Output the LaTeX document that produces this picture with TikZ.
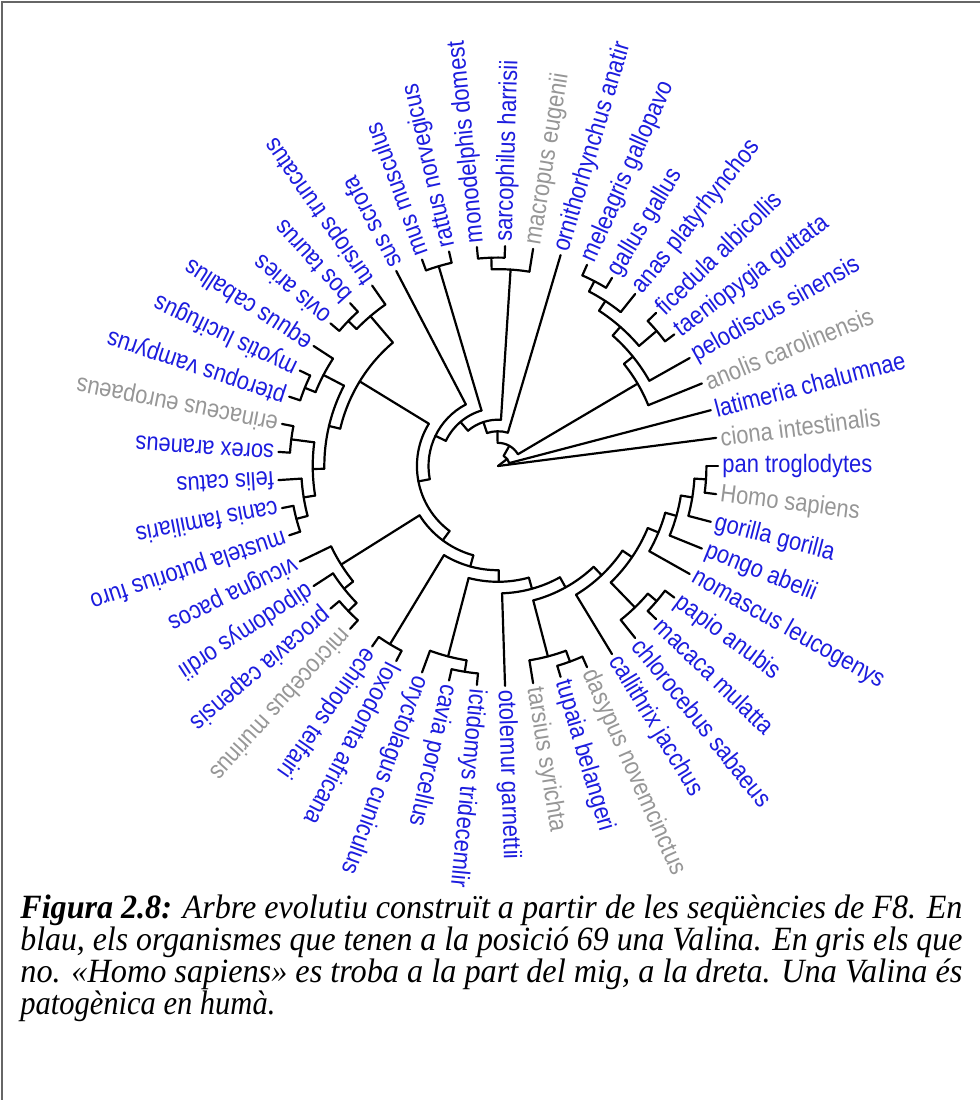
\documentclass[tikz,border=0pt]{standalone}
\usepackage{graphicx}
\usepackage{fontspec}
\setmainfont{Liberation Serif}
\newfontfamily\labfont{Liberation Sans}
\definecolor{tipblue}{RGB}{28,28,222}
\definecolor{tipgray}{RGB}{150,150,150}
\tikzset{
  branch/.style={line width=1.1pt, line cap=round},
  tiplabel/.style={anchor=west, inner sep=0pt, font=\labfont\fontsize{12.6}{14}\selectfont},
  capline/.style={anchor=base west, inner sep=0pt, font=\itshape\fontsize{17}{20}\selectfont},
}
% #1 radius, #2 #3 angles of the two children, #4 own angle, #5 radius of the parent
\newcommand{\clade}[5]{%
  \draw[branch] (#2:#1) arc[start angle=#2, end angle=#3, radius=#1];
  \draw[branch] (#4:#5) -- (#4:#1);}
% #1 angle, #2 radius of the parent, #3 colour, #4 name, #5 text
\newcommand{\taxon}[5]{%
  \draw[branch] (#1:#2) -- (#1:220);
  \node[tiplabel, text=#3, rotate=#1] (#4) at (#1:224) {\scalebox{0.87}[1]{#5}};}
\begin{document}
\begin{tikzpicture}[x=0.5pt, y=0.5pt]
  \useasboundingbox (-498,-634) rectangle (482,466);
  \draw[black!60, line width=1pt] (-496,-634) -- (-496,464) -- (482,464);

  % fishes, reptiles and birds
  \taxon{7.347}{0}{tipgray}{ciona}{ciona intestinalis}
  \taxon{14.694}{11.58}{tipblue}{latimeria}{latimeria chalumnae}
  \taxon{22.041}{162.11}{tipgray}{anolis}{anolis carolinensis}
  \taxon{29.388}{173.68}{tipblue}{pelodiscus}{pelodiscus sinensis}
  \taxon{36.735}{208.42}{tipblue}{taeniopygia}{taeniopygia guttata}
  \taxon{44.082}{208.42}{tipblue}{ficedula}{ficedula albicollis}
  \taxon{51.429}{196.84}{tipblue}{anas}{anas platyrhynchos}
  \taxon{58.776}{208.42}{tipblue}{gallus}{gallus gallus}
  \taxon{66.122}{208.42}{tipblue}{meleagris}{meleagris gallopavo}
  \clade{208.42}{66.122}{58.776}{62.449}{196.84}
  \clade{196.84}{62.449}{51.429}{56.939}{185.26}
  \clade{208.42}{44.082}{36.735}{40.408}{185.26}
  \clade{185.26}{56.939}{40.408}{48.673}{173.68}
  \clade{173.68}{48.673}{29.388}{39.031}{162.11}
  \clade{162.11}{39.031}{22.041}{30.536}{23.16}

  % monotremes, marsupials, rodents
  \taxon{73.469}{34.74}{tipblue}{ornithorhynchus}{ornithorhynchus anatir}
  \taxon{80.816}{196.84}{tipgray}{macropus}{macropus eugenii}
  \taxon{88.163}{208.42}{tipblue}{sarcophilus}{sarcophilus harrisii}
  \taxon{95.510}{208.42}{tipblue}{monodelphis}{monodelphis domest}
  \taxon{102.857}{208.42}{tipblue}{rattus}{rattus norvegicus}
  \taxon{110.204}{208.42}{tipblue}{mus}{mus musculus}
  \taxon{117.551}{69.47}{tipblue}{sus}{sus scrofa}
  \clade{208.42}{95.510}{88.163}{91.837}{196.84}
  \clade{196.84}{91.837}{80.816}{86.327}{46.32}
  \clade{208.42}{110.204}{102.857}{106.531}{57.89}

  % laurasiatheria
  \taxon{124.898}{196.84}{tipblue}{tursiops}{tursiops truncatus}
  \taxon{132.245}{208.42}{tipblue}{bos}{bos taurus}
  \taxon{139.592}{208.42}{tipblue}{ovis}{ovis aries}
  \taxon{146.939}{196.84}{tipblue}{equus}{equus caballus}
  \taxon{154.286}{208.42}{tipblue}{myotis}{myotis lucifugus}
  \taxon{161.633}{208.42}{tipblue}{pteropus}{pteropus vampyrus}
  \taxon{168.980}{208.42}{tipgray}{erinaceus}{erinaceus europaeus}
  \taxon{176.327}{208.42}{tipblue}{sorex}{sorex araneus}
  \taxon{183.673}{196.84}{tipblue}{felis}{felis catus}
  \taxon{191.020}{208.42}{tipblue}{canis}{canis familiaris}
  \taxon{198.367}{208.42}{tipblue}{mustela}{mustela putorius furo}
  \clade{208.42}{132.245}{139.592}{135.918}{196.84}
  \clade{196.84}{124.898}{135.918}{130.408}{162.11}
  \clade{208.42}{154.286}{161.633}{157.959}{196.84}
  \clade{196.84}{146.939}{157.959}{152.449}{173.68}
  \clade{208.42}{168.980}{176.327}{172.653}{185.26}
  \clade{208.42}{191.020}{198.367}{194.694}{196.84}
  \clade{196.84}{183.673}{194.694}{189.184}{185.26}
  \clade{185.26}{172.653}{189.184}{180.918}{173.68}
  \clade{173.68}{152.449}{180.918}{166.684}{162.11}
  \clade{162.11}{130.408}{166.684}{148.546}{81.05}

  % the lower half
  \taxon{205.714}{185.26}{tipblue}{vicugna}{vicugna pacos}
  \taxon{213.061}{196.84}{tipblue}{dipodomys}{dipodomys ordii}
  \taxon{220.408}{208.42}{tipblue}{procavia}{procavia capensis}
  \taxon{227.755}{208.42}{tipgray}{microcebus}{microcebus murinus}
  \taxon{235.102}{208.42}{tipblue}{echinops}{echinops telfairi}
  \taxon{242.449}{208.42}{tipblue}{loxodonta}{loxodonta africana}
  \taxon{249.796}{196.84}{tipblue}{oryctolagus}{oryctolagus cuniculus}
  \taxon{257.143}{208.42}{tipblue}{cavia}{cavia porcellus}
  \taxon{264.490}{208.42}{tipblue}{ictidomys}{ictidomys tridecemlir}
  \taxon{271.837}{127.37}{tipblue}{otolemur}{otolemur garnettii}
  \taxon{279.184}{196.84}{tipgray}{tarsius}{tarsius syrichta}
  \taxon{286.531}{208.42}{tipblue}{tupaia}{tupaia belangeri}
  \taxon{293.878}{208.42}{tipgray}{dasypus}{dasypus novemcinctus}
  \taxon{301.224}{150.53}{tipblue}{callithrix}{callithrix jacchus}
  \clade{208.42}{220.408}{227.755}{224.082}{196.84}
  \clade{196.84}{213.061}{224.082}{218.571}{185.26}
  \clade{185.26}{205.714}{218.571}{212.143}{92.63}
  \clade{208.42}{235.102}{242.449}{238.776}{104.21}
  \clade{208.42}{257.143}{264.490}{260.816}{196.84}
  \clade{196.84}{249.796}{260.816}{255.306}{115.79}
  \clade{208.42}{286.531}{293.878}{290.204}{196.84}
  \clade{196.84}{279.184}{290.204}{284.694}{138.95}

  % primates
  \taxon{308.571}{196.84}{tipblue}{chlorocebus}{chlorocebus sabaeus}
  \taxon{315.918}{208.42}{tipblue}{macaca}{macaca mulatta}
  \taxon{323.265}{208.42}{tipblue}{papio}{papio anubis}
  \taxon{330.612}{173.68}{tipblue}{nomascus}{nomascus leucogenys}
  \taxon{337.959}{185.26}{tipblue}{pongo}{pongo abelii}
  \taxon{345.306}{196.84}{tipblue}{gorilla}{gorilla gorilla}
  \taxon{352.653}{208.42}{tipgray}{homo}{Homo sapiens}
  \taxon{360}{208.42}{tipblue}{pan}{pan troglodytes}
  \clade{208.42}{352.653}{360}{356.327}{196.84}
  \clade{196.84}{345.306}{356.327}{350.816}{185.26}
  \clade{185.26}{337.959}{350.816}{344.388}{173.68}
  \clade{173.68}{330.612}{344.388}{337.500}{162.11}
  \clade{208.42}{315.918}{323.265}{319.592}{196.84}
  \clade{196.84}{308.571}{319.592}{314.082}{162.11}

  % the spine down to the root
  \clade{162.11}{314.082}{337.500}{325.791}{150.53}
  \clade{150.53}{301.224}{325.791}{313.508}{138.95}
  \clade{138.95}{284.694}{313.508}{299.101}{127.37}
  \clade{127.37}{271.837}{299.101}{285.469}{115.79}
  \clade{115.79}{255.306}{285.469}{270.388}{104.21}
  \clade{104.21}{238.776}{270.388}{254.582}{92.63}
  \clade{92.63}{212.143}{254.582}{233.362}{81.05}
  \clade{81.05}{148.546}{233.362}{190.954}{69.47}
  \clade{69.47}{117.551}{190.954}{154.253}{57.89}
  \clade{57.89}{106.531}{154.253}{130.392}{46.32}
  \clade{46.32}{86.327}{130.392}{108.360}{34.74}
  \clade{34.74}{73.469}{108.360}{90.914}{23.16}
  \clade{23.16}{30.536}{90.914}{60.725}{11.58}
  \clade{11.58}{14.694}{60.725}{37.709}{0}

  % caption
  \node[capline] (cap1) at (-478,-452) {\resizebox{471pt}{\height}{\textbf{Figura 2.8:} Arbre evolutiu construït a partir de les seqüències de F8. En}};
  \node[capline] (cap2) at (-478,-484) {\resizebox{471pt}{\height}{blau, els organismes que tenen a la posició 69 una Valina. En gris els que}};
  \node[capline] (cap3) at (-478,-516) {\resizebox{471pt}{\height}{no. «Homo sapiens» es troba a la part del mig, a la dreta. Una Valina és}};
  \node[capline] (cap4) at (-478,-548) {\resizebox{127.5pt}{\height}{patogènica en humà.}};
\end{tikzpicture}
\end{document}
